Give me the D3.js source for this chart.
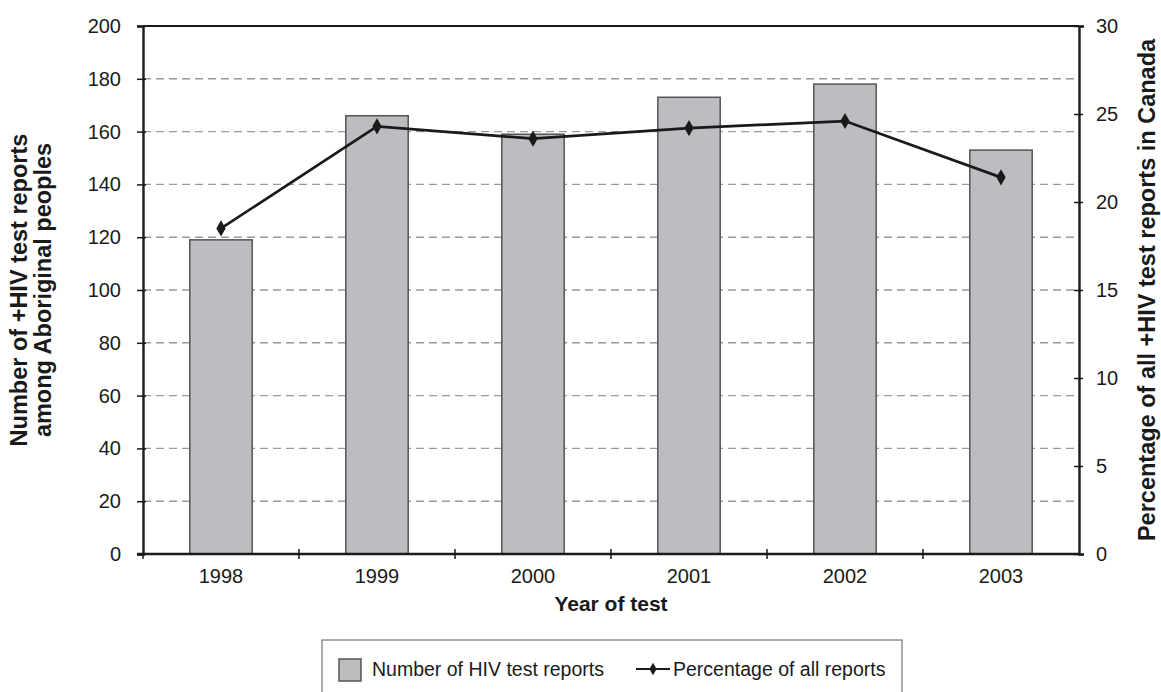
<!DOCTYPE html>
<html>
<head>
<meta charset="utf-8">
<script src="https://cdn.jsdelivr.net/npm/d3@7"></script>
<style>
  html, body { margin: 0; padding: 0; background: #fff; }
  svg { display: block; font-family: "Liberation Sans", Arial, sans-serif; }
</style>
</head>
<body>
<svg id="chart" width="1161" height="692"></svg>
<script>
// HIV test reports among Aboriginal peoples, by year of test
const years = ["1998", "1999", "2000", "2001", "2002", "2003"];
const reportCounts = [119, 166, 159, 173, 178, 153];
const reportPercents = [18.5, 24.3, 23.6, 24.2, 24.6, 21.4];
const countTicks = [0, 20, 40, 60, 80, 100, 120, 140, 160, 180, 200];
const percentTicks = [0, 5, 10, 15, 20, 25, 30];

const svg = d3.select("#chart");
const plot = { left: 143, right: 1079, top: 26, bottom: 554 };

const x = d3.scaleBand().domain(years).range([plot.left, plot.right]).padding(0);
const yCount = d3.scaleLinear().domain([0, 200]).range([plot.bottom, plot.top]);
const yPct = d3.scaleLinear().domain([0, 30]).range([plot.bottom, plot.top]);
const barWidth = x.bandwidth() * 0.4;
const cx = d => x(d) + x.bandwidth() / 2;

const ink = "#1a1a1a";
const tickFont = "20px";
const titleFont = "21px";
const sideTitleFont = "23.5px";

// dashed horizontal gridlines
svg.append("g")
  .selectAll("line")
  .data(countTicks.filter(v => v > 0 && v < 200))
  .join("line")
  .attr("x1", plot.left).attr("x2", plot.right)
  .attr("y1", d => yCount(d)).attr("y2", d => yCount(d))
  .attr("stroke", "#9a9a9a").attr("stroke-width", 1.4)
  .attr("stroke-dasharray", "8,5");

// bars
svg.append("g")
  .selectAll("rect")
  .data(years)
  .join("rect")
  .attr("x", d => cx(d) - barWidth / 2)
  .attr("width", barWidth)
  .attr("y", (d, i) => yCount(reportCounts[i]))
  .attr("height", (d, i) => yCount(0) - yCount(reportCounts[i]))
  .attr("fill", "#bcbdc1")
  .attr("stroke", "#555").attr("stroke-width", 1.5);

// top frame line
svg.append("line")
  .attr("x1", plot.left).attr("x2", plot.right)
  .attr("y1", plot.top).attr("y2", plot.top)
  .attr("stroke", ink).attr("stroke-width", 2.2);

// left axis
const leftAxis = svg.append("g")
  .attr("transform", `translate(${plot.left},0)`)
  .call(d3.axisLeft(yCount).tickValues(countTicks).tickSize(6).tickPadding(16));
leftAxis.select(".domain").attr("stroke", ink).attr("stroke-width", 2.4);
leftAxis.selectAll(".tick line").attr("stroke", ink).attr("stroke-width", 1.5).attr("x2", -6).attr("x1", 3);
leftAxis.selectAll("text").attr("font-size", tickFont).attr("fill", ink)
  .attr("font-family", "Liberation Sans, Arial, sans-serif");

// right axis
const rightAxis = svg.append("g")
  .attr("transform", `translate(${plot.right},0)`)
  .call(d3.axisRight(yPct).tickValues(percentTicks).tickSize(5).tickPadding(12));
rightAxis.select(".domain").attr("stroke", ink).attr("stroke-width", 2.4);
rightAxis.selectAll(".tick line").attr("stroke", ink).attr("stroke-width", 1.5).attr("x1", -5).attr("x2", 4);
rightAxis.selectAll("text").attr("font-size", tickFont).attr("fill", ink)
  .attr("font-family", "Liberation Sans, Arial, sans-serif");

// bottom axis: ticks fall between categories
const bottom = svg.append("g").attr("transform", `translate(0,${plot.bottom})`);
bottom.append("line")
  .attr("x1", plot.left - 6).attr("x2", plot.right)
  .attr("stroke", ink).attr("stroke-width", 2.4);
bottom.selectAll("line.sep")
  .data(years.slice(1))
  .join("line").attr("class", "sep")
  .attr("x1", d => x(d)).attr("x2", d => x(d))
  .attr("y1", -5).attr("y2", 5)
  .attr("stroke", ink).attr("stroke-width", 1.5);
bottom.append("line")
  .attr("x1", plot.left).attr("x2", plot.left).attr("y1", 0).attr("y2", 5)
  .attr("stroke", ink).attr("stroke-width", 1.5);
bottom.selectAll("text.year")
  .data(years)
  .join("text").attr("class", "year")
  .attr("x", d => cx(d)).attr("y", 29)
  .attr("text-anchor", "middle")
  .attr("font-size", tickFont).attr("fill", ink)
  .text(d => d);

// percentage line with diamond markers
const line = d3.line()
  .x((d, i) => cx(years[i]))
  .y(d => yPct(d));
svg.append("path")
  .datum(reportPercents)
  .attr("d", line)
  .attr("fill", "none").attr("stroke", ink).attr("stroke-width", 2.7);
const diamond = d3.symbol().type(d3.symbolDiamond).size(75);
svg.append("g")
  .selectAll("path")
  .data(reportPercents)
  .join("path")
  .attr("transform", (d, i) => `translate(${cx(years[i])},${yPct(d)})`)
  .attr("d", diamond)
  .attr("fill", ink);

// axis titles
svg.append("text")
  .attr("x", (plot.left + plot.right) / 2).attr("y", 611)
  .attr("text-anchor", "middle")
  .attr("font-size", titleFont).attr("font-weight", "bold").attr("fill", ink)
  .text("Year of test");

const midY = (plot.top + plot.bottom) / 2;
const leftTitle = svg.append("text")
  .attr("transform", `translate(27,${midY}) rotate(-90)`)
  .attr("text-anchor", "middle")
  .attr("font-size", sideTitleFont).attr("font-weight", "bold").attr("fill", ink);
leftTitle.append("tspan").attr("x", 0).attr("dy", 0).text("Number of +HIV test reports");
leftTitle.append("tspan").attr("x", 0).attr("dy", 24).text("among Aboriginal peoples");

svg.append("text")
  .attr("transform", `translate(1155,${midY}) rotate(-90)`)
  .attr("text-anchor", "middle")
  .attr("font-size", sideTitleFont).attr("font-weight", "bold").attr("fill", ink)
  .text("Percentage of all +HIV test reports in Canada");

// legend
const legend = svg.append("g");
legend.append("rect")
  .attr("x", 322).attr("y", 640).attr("width", 580).attr("height", 70)
  .attr("fill", "none").attr("stroke", "#777").attr("stroke-width", 1.2);
legend.append("rect")
  .attr("x", 339).attr("y", 659).attr("width", 22).attr("height", 22)
  .attr("fill", "#bcbdc1").attr("stroke", "#555").attr("stroke-width", 1.5);
legend.append("text")
  .attr("x", 372).attr("y", 676)
  .attr("font-size", "19.5px").attr("fill", ink)
  .text("Number of HIV test reports");
legend.append("line")
  .attr("x1", 636).attr("x2", 670).attr("y1", 669).attr("y2", 669)
  .attr("stroke", ink).attr("stroke-width", 2.2);
legend.append("path")
  .attr("transform", "translate(653,669)")
  .attr("d", d3.symbol().type(d3.symbolDiamond).size(45))
  .attr("fill", ink);
legend.append("text")
  .attr("x", 673).attr("y", 676)
  .attr("font-size", "19.5px").attr("fill", ink)
  .text("Percentage of all reports");
</script>
</body>
</html>
